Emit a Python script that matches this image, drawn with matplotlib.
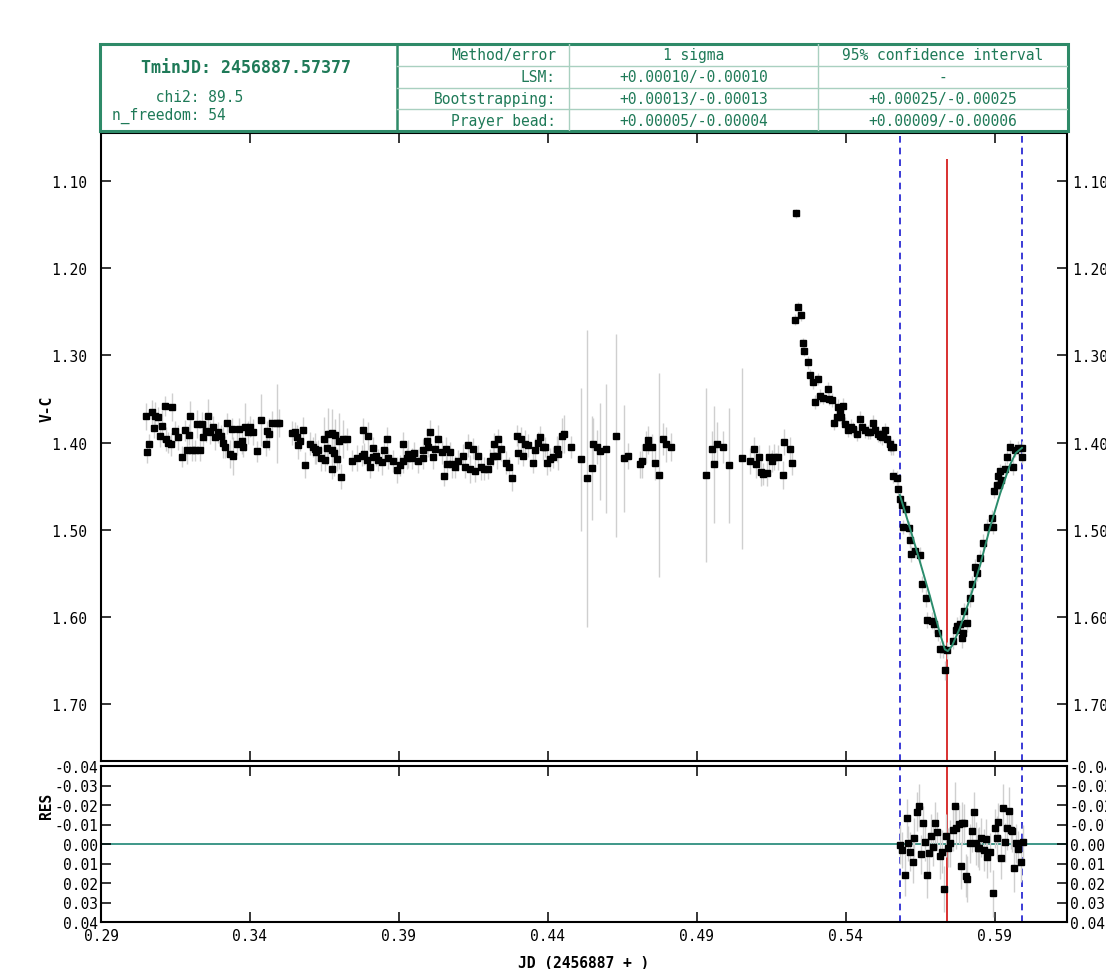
import matplotlib
matplotlib.use("Agg")
import matplotlib.pyplot as plt
from matplotlib.patches import Rectangle
from matplotlib.ticker import FormatStrFormatter

plt.rcParams['font.family'] = ['DejaVu Sans Mono', 'DejaVu Sans']
plt.rcParams['axes.unicode_minus'] = False

# ---- light curve (JD - 2456887, V-C) ----
jd = [
    # first run
    0.3051, 0.3053, 0.3062, 0.3070, 0.3078, 0.3081, 0.3092, 0.3098,
    0.3104, 0.3115, 0.3118, 0.3126, 0.3135, 0.3139, 0.3148, 0.3159,
    0.3171, 0.3182, 0.3190, 0.3196, 0.3199, 0.3204, 0.3215, 0.3221,
    0.3232, 0.3238, 0.3241, 0.3252, 0.3260, 0.3266, 0.3277, 0.3283,
    0.3294, 0.3302, 0.3308, 0.3316, 0.3324, 0.3333, 0.3339, 0.3344,
    0.3355, 0.3364, 0.3372, 0.3378, 0.3383, 0.3394, 0.3400, 0.3411,
    0.3422, 0.3436, 0.3454, 0.3456, 0.3465, 0.3473, 0.3490, 0.3498,
    # second run
    0.3540, 0.3551, 0.3557, 0.3562, 0.3568, 0.3579, 0.3584, 0.3601,
    0.3612, 0.3618, 0.3621, 0.3629, 0.3640, 0.3649, 0.3652, 0.3657,
    0.3662, 0.3674, 0.3675, 0.3676, 0.3682, 0.3685, 0.3691, 0.3700,
    0.3704, 0.3713, 0.3726, 0.3741, 0.3758, 0.3775, 0.3780, 0.3781,
    0.3792, 0.3797, 0.3803, 0.3812, 0.3814, 0.3823, 0.3831, 0.3842,
    0.3850, 0.3859, 0.3864, 0.3881, 0.3892, 0.3903, 0.3914, 0.3915,
    0.3926, 0.3931, 0.3943, 0.3950, 0.3965, 0.3980, 0.3982, 0.3995,
    0.3998, 0.4004, 0.4015, 0.4021, 0.4032, 0.4043, 0.4051, 0.4058,
    0.4060, 0.4071, 0.4077, 0.4088, 0.4099, 0.4114, 0.4121, 0.4133,
    0.4138, 0.4149, 0.4155, 0.4166, 0.4174, 0.4185, 0.4200, 0.4205,
    0.4214, 0.4219, 0.4230, 0.4234, 0.4244, 0.4259, 0.4270, 0.4281,
    0.4295, 0.4300, 0.4308, 0.4315, 0.4323, 0.4334, 0.4349, 0.4356,
    0.4367, 0.4373, 0.4382, 0.4390, 0.4396, 0.4407, 0.4418, 0.4429,
    0.4435, 0.4446, 0.4454, 0.4476,
    # sparse, noisy part
    0.4511, 0.4532, 0.4547, 0.4550, 0.4563, 0.4574, 0.4594, 0.4627,
    0.4655, 0.4670, 0.4709, 0.4717, 0.4729, 0.4735, 0.4748, 0.4759,
    0.4774, 0.4785, 0.4795, 0.4812,
    0.4929, 0.4949, 0.4957, 0.4966, 0.4988, 0.5008, 0.5051, 0.5078,
    0.5092, 0.5098, 0.5109, 0.5114, 0.5123, 0.5134, 0.5143, 0.5151,
    0.5158, 0.5173, 0.5188, 0.5193, 0.5214, 0.5220,
    # flare and decline
    0.5229, 0.5232, 0.5240, 0.5249, 0.5255, 0.5260, 0.5273, 0.5281,
    0.5290, 0.5296, 0.5305, 0.5313, 0.5324, 0.5339, 0.5344, 0.5352,
    0.5361, 0.5371, 0.5374, 0.5380, 0.5385, 0.5391, 0.5397, 0.5408,
    0.5416, 0.5425, 0.5438, 0.5447, 0.5453, 0.5464, 0.5475, 0.5481,
    0.5492, 0.5497, 0.5508, 0.5514, 0.5520, 0.5525, 0.5531, 0.5537,
    0.5548, 0.5553, 0.5557,
    # eclipse
    0.5559, 0.5570, 0.5576, 0.5581, 0.5587, 0.5590, 0.5601, 0.5612,
    0.5614, 0.5620, 0.5631, 0.5648, 0.5654, 0.5668, 0.5671, 0.5688,
    0.5695, 0.5710, 0.5715, 0.5727, 0.5732, 0.5740, 0.5758, 0.5769,
    0.5774, 0.5783, 0.5788, 0.5794, 0.5796, 0.5807, 0.5816, 0.5822,
    0.5833, 0.5839, 0.5850, 0.5859, 0.5872, 0.5889, 0.5894, 0.5897,
    0.5906, 0.5911, 0.5914, 0.5917, 0.5922, 0.5933, 0.5939, 0.5950,
    0.5961, 0.5967, 0.5977, 0.5990, 0.5992,
]

vc = [
    1.370, 1.411, 1.402, 1.365, 1.383, 1.369, 1.371, 1.392,
    1.381, 1.358, 1.396, 1.400, 1.402, 1.359, 1.387, 1.394,
    1.416, 1.386, 1.409, 1.391, 1.370, 1.408, 1.409, 1.379,
    1.409, 1.379, 1.394, 1.387, 1.370, 1.388, 1.382, 1.394,
    1.388, 1.392, 1.400, 1.405, 1.378, 1.413, 1.384, 1.415,
    1.401, 1.384, 1.398, 1.405, 1.382, 1.388, 1.382, 1.388,
    1.410, 1.374, 1.402, 1.387, 1.390, 1.378, 1.378, 1.378,

    1.389, 1.388, 1.393, 1.403, 1.398, 1.385, 1.426, 1.401,
    1.405, 1.407, 1.411, 1.409, 1.418, 1.396, 1.420, 1.406,
    1.390, 1.389, 1.409, 1.430, 1.412, 1.391, 1.419, 1.398,
    1.439, 1.396, 1.396, 1.421, 1.418, 1.415, 1.386, 1.413,
    1.420, 1.392, 1.428, 1.406, 1.417, 1.415, 1.420, 1.422,
    1.409, 1.396, 1.418, 1.421, 1.431, 1.426, 1.421, 1.401,
    1.418, 1.413, 1.418, 1.412, 1.421, 1.418, 1.409, 1.398,
    1.405, 1.388, 1.417, 1.407, 1.396, 1.411, 1.438, 1.407,
    1.425, 1.411, 1.425, 1.428, 1.421, 1.415, 1.428, 1.403,
    1.430, 1.407, 1.432, 1.415, 1.428, 1.430, 1.430, 1.421,
    1.415, 1.402, 1.415, 1.396, 1.407, 1.423, 1.428, 1.441,
    1.392, 1.412, 1.396, 1.415, 1.402, 1.403, 1.423, 1.409,
    1.400, 1.394, 1.405, 1.405, 1.423, 1.419, 1.417, 1.407,
    1.413, 1.392, 1.390, 1.405,

    1.419, 1.441, 1.429, 1.402, 1.405, 1.410, 1.407, 1.392,
    1.418, 1.415, 1.425, 1.421, 1.405, 1.397, 1.405, 1.423,
    1.437, 1.396, 1.402, 1.405,
    1.437, 1.407, 1.425, 1.401, 1.405, 1.426, 1.418, 1.421,
    1.407, 1.425, 1.417, 1.434, 1.436, 1.435, 1.417, 1.421,
    1.416, 1.417, 1.437, 1.399, 1.407, 1.423,

    1.259, 1.137, 1.245, 1.254, 1.286, 1.295, 1.308, 1.322,
    1.331, 1.353, 1.327, 1.346, 1.349, 1.338, 1.350, 1.351,
    1.377, 1.371, 1.359, 1.365, 1.371, 1.358, 1.379, 1.386,
    1.382, 1.384, 1.390, 1.373, 1.382, 1.386, 1.388, 1.388,
    1.377, 1.386, 1.390, 1.392, 1.394, 1.390, 1.386, 1.396,
    1.402, 1.405, 1.405,

    1.438, 1.440, 1.453, 1.465, 1.472, 1.497, 1.476, 1.498,
    1.512, 1.528, 1.524, 1.529, 1.562, 1.578, 1.603, 1.604,
    1.608, 1.618, 1.637, 1.637, 1.661, 1.638, 1.627, 1.615,
    1.610, 1.608, 1.624, 1.618, 1.593, 1.607, 1.578, 1.562,
    1.543, 1.550, 1.532, 1.515, 1.497, 1.486, 1.497, 1.455,
    1.449, 1.438, 1.449, 1.432, 1.443, 1.430, 1.417, 1.405,
    1.428, 1.409, 1.406, 1.406, 1.417,
]

vc_err = [
    0.015, 0.012, 0.012, 0.014, 0.012, 0.016, 0.012, 0.013,
    0.018, 0.012, 0.014, 0.012, 0.013, 0.016, 0.012, 0.014,
    0.012, 0.012, 0.015, 0.012, 0.018, 0.013, 0.012, 0.016,
    0.012, 0.014, 0.012, 0.012, 0.020, 0.013, 0.012, 0.015,
    0.012, 0.012, 0.018, 0.013, 0.012, 0.016, 0.012, 0.022,
    0.013, 0.012, 0.015, 0.012, 0.028, 0.013, 0.012, 0.015,
    0.012, 0.030, 0.013, 0.012, 0.018, 0.014, 0.045, 0.016,

    0.014, 0.012, 0.013, 0.016, 0.012, 0.014, 0.015, 0.013,
    0.012, 0.018, 0.013, 0.012, 0.015, 0.025, 0.013, 0.020,
    0.030, 0.028, 0.014, 0.012, 0.026, 0.018, 0.013, 0.032,
    0.014, 0.022, 0.013, 0.012, 0.015, 0.012, 0.014, 0.013,
    0.012, 0.016, 0.013, 0.012, 0.014, 0.012, 0.013, 0.015,
    0.012, 0.014, 0.012, 0.013, 0.015, 0.012, 0.014, 0.013,
    0.012, 0.016, 0.012, 0.013, 0.014, 0.012, 0.013, 0.015,
    0.012, 0.014, 0.013, 0.012, 0.016, 0.013, 0.012, 0.014,
    0.013, 0.012, 0.015, 0.013, 0.012, 0.014, 0.012, 0.013,
    0.016, 0.012, 0.013, 0.012, 0.015, 0.013, 0.012, 0.014,
    0.012, 0.013, 0.015, 0.012, 0.014, 0.013, 0.012, 0.015,
    0.012, 0.013, 0.014, 0.012, 0.016, 0.013, 0.012, 0.014,
    0.012, 0.013, 0.015, 0.012, 0.014, 0.013, 0.012, 0.015,
    0.018, 0.020, 0.022, 0.013,

    0.082, 0.170, 0.060, 0.030, 0.020, 0.056, 0.074, 0.116,
    0.061, 0.015, 0.015, 0.020, 0.018, 0.016, 0.015, 0.020,
    0.117, 0.018, 0.020, 0.016,
    0.100, 0.020, 0.067, 0.025, 0.018, 0.066, 0.104, 0.015,
    0.014, 0.015, 0.014, 0.016, 0.013, 0.015, 0.014, 0.013,
    0.015, 0.014, 0.016, 0.015, 0.013, 0.014,

    0.006, 0.005, 0.006, 0.006, 0.006, 0.006, 0.007, 0.007,
    0.007, 0.008, 0.007, 0.008, 0.007, 0.008, 0.007, 0.008,
    0.008, 0.008, 0.009, 0.008, 0.008, 0.009, 0.008, 0.008,
    0.009, 0.008, 0.008, 0.009, 0.008, 0.009, 0.008, 0.008,
    0.009, 0.008, 0.009, 0.008, 0.009, 0.008, 0.009, 0.009,
    0.009, 0.009, 0.009,

    0.008, 0.008, 0.009, 0.008, 0.009, 0.008, 0.009, 0.008,
    0.009, 0.009, 0.008, 0.009, 0.009, 0.010, 0.009, 0.010,
    0.010, 0.009, 0.010, 0.010, 0.011, 0.010, 0.010, 0.009,
    0.010, 0.010, 0.011, 0.010, 0.009, 0.010, 0.010, 0.009,
    0.010, 0.009, 0.009, 0.010, 0.009, 0.009, 0.008, 0.009,
    0.009, 0.008, 0.009, 0.008, 0.009, 0.008, 0.008, 0.008,
    0.009, 0.008, 0.008, 0.008, 0.008,
]

# fitted model over the minimum
model_jd = [0.5581, 0.5615, 0.5648, 0.5682, 0.5715, 0.5732, 0.5742, 0.5756,
            0.5782, 0.5816, 0.5850, 0.5883, 0.5917, 0.5950, 0.5970, 0.5991]
model_vc = [1.460, 1.498, 1.536, 1.576, 1.618, 1.637, 1.639, 1.633,
            1.613, 1.579, 1.541, 1.498, 1.459, 1.426, 1.412, 1.406]

# residuals
res_jd = [
    0.5581, 0.5589, 0.5598, 0.5604, 0.5609, 0.5615, 0.5624, 0.5628,
    0.5637, 0.5646, 0.5651, 0.5659, 0.5665, 0.5671, 0.5679, 0.5685,
    0.5693, 0.5699, 0.5706, 0.5715, 0.5721, 0.5729, 0.5735, 0.5743,
    0.5749, 0.5758, 0.5766, 0.5771, 0.5779, 0.5786, 0.5788, 0.5796,
    0.5803, 0.5808, 0.5816, 0.5824, 0.5829, 0.5836, 0.5842, 0.5847,
    0.5855, 0.5863, 0.5870, 0.5875, 0.5883, 0.5892, 0.5900, 0.5906,
    0.5911, 0.5922, 0.5928, 0.5933, 0.5939, 0.5948, 0.5953, 0.5959,
    0.5964, 0.5971, 0.5978, 0.5986, 0.5993,
]
res = [
    0.0005, 0.0031, 0.0159, -0.0132, -0.0004, 0.0039, 0.0090, -0.0033,
    -0.0166, -0.0197, 0.0053, -0.0106, -0.0012, 0.0159, 0.0048, -0.0043,
    0.0014, -0.0106, -0.0063, 0.0060, 0.0039, 0.0231, -0.0043, 0.0019,
    -0.0004, -0.0072, -0.0197, -0.0084, -0.0101, 0.0111, -0.0106, -0.0106,
    0.0162, 0.0179, -0.0004, -0.0067, -0.0166, -0.0004, 0.0019, 0.0022,
    -0.0033, 0.0031, -0.0026, 0.0065, 0.0043, 0.0253, -0.0081, -0.0033,
    -0.0111, 0.0070, -0.0186, -0.0009, -0.0081, -0.0170, -0.0072, -0.0067,
    0.0124, -0.0004, 0.0025, 0.0094, -0.0009,
]
res_err = [
    0.010, 0.009, 0.011, 0.010, 0.009, 0.010, 0.011, 0.010,
    0.010, 0.011, 0.010, 0.009, 0.010, 0.012, 0.010, 0.011,
    0.010, 0.011, 0.010, 0.012, 0.011, 0.012, 0.011, 0.010,
    0.012, 0.011, 0.012, 0.011, 0.010, 0.012, 0.011, 0.010,
    0.011, 0.012, 0.010, 0.011, 0.010, 0.011, 0.010, 0.011,
    0.010, 0.011, 0.010, 0.011, 0.010, 0.012, 0.010, 0.011,
    0.010, 0.011, 0.012, 0.010, 0.011, 0.012, 0.010, 0.011,
    0.012, 0.010, 0.009, 0.010, 0.009,
]

tmin = 0.57377
fit_window = [0.5581, 0.5991]
tmin_line_top = 1.075

x_ticks = [0.29, 0.34, 0.39, 0.44, 0.49, 0.54, 0.59]
y_ticks = [1.10, 1.20, 1.30, 1.40, 1.50, 1.60, 1.70]
res_ticks = [-0.04, -0.03, -0.02, -0.01, 0.00, 0.01, 0.02, 0.03, 0.04]

# table contents
tmin_text = "TminJD: 2456887.57377"
chi2_text = "     chi2: 89.5"
nfree_text = "n_freedom: 54"
header = ["Method/error", "1 sigma", "95% confidence interval"]
methods = ["LSM:", "Bootstrapping:", "Prayer bead:"]
sigma_err = ["+0.00010/-0.00010", "+0.00013/-0.00013", "+0.00005/-0.00004"]
ci95_err = ["-", "+0.00025/-0.00025", "+0.00009/-0.00006"]

GREEN = '#1f7a58'
BORDER = '#2e8a68'
LIGHT = '#a9d0c0'
FS = 10.5

W, H = 1106, 970
fig = plt.figure(figsize=(W / 100, H / 100), dpi=100)


def box(l, t, r, b):
    return [l / W, 1 - b / H, (r - l) / W, (b - t) / H]


ax = fig.add_axes(box(101, 134, 1067, 762))
axr = fig.add_axes(box(101, 767, 1067, 923))
axt = fig.add_axes(box(100, 45, 1068, 132))

# main panel
ax.errorbar(jd, vc, yerr=vc_err, fmt='none', ecolor='#cfcfcf', elinewidth=1, zorder=2)
ax.plot(jd, vc, 's', color='black', ms=4.3, zorder=3)
ax.plot(model_jd, model_vc, color='#2a8c6c', lw=1.4, zorder=4)
for xv in fit_window:
    ax.axvline(xv, color='#1a1ad0', ls=(0, (4, 3)), lw=1.2, zorder=1)
ax.vlines(tmin, tmin_line_top, 1.80, color='#d83030', lw=1.4, zorder=1)

ax.set_xlim(0.29, 0.6142)
ax.set_ylim(1.765, 1.045)
ax.set_xticks(x_ticks)
ax.set_yticks(y_ticks)
ax.yaxis.set_major_formatter(FormatStrFormatter('%.2f '))
ax.tick_params(direction='in', length=7, width=1.1, top=True, right=True,
               labelbottom=False, labelright=True, labelsize=FS, pad=4)

# residual panel
axr.axhline(0, color='#2f8f7f', lw=1.3, zorder=1)
axr.errorbar(res_jd, res, yerr=res_err, fmt='none', ecolor='#cfcfcf', elinewidth=1, zorder=2)
axr.plot(res_jd, res, 's', color='black', ms=4.0, zorder=3)
for xv in fit_window:
    axr.axvline(xv, color='#1a1ad0', ls=(0, (4, 3)), lw=1.2, zorder=1)
axr.axvline(tmin, color='#d83030', lw=1.4, zorder=1)

axr.set_xlim(0.29, 0.6142)
axr.set_ylim(0.04, -0.04)
axr.set_xticks(x_ticks)
axr.set_yticks(res_ticks)
axr.xaxis.set_major_formatter(FormatStrFormatter('%.2f'))
axr.yaxis.set_major_formatter(FormatStrFormatter('%.2f'))
axr.tick_params(direction='in', length=7, width=1.1, top=True, right=True,
                labelright=True, labelsize=FS, pad=2)
axr.tick_params(axis='x', pad=4)

for a in (ax, axr):
    for s in a.spines.values():
        s.set_linewidth(1.5)

fig.text(47 / W, 1 - 409 / H, 'V-C', rotation=90, weight='bold',
         ha='center', va='center', fontsize=FS)
fig.text(47 / W, 1 - 806 / H, 'RES', rotation=90, weight='bold',
         ha='center', va='center', fontsize=FS)
fig.text(584 / W, 1 - 964 / H, 'JD (2456887 + )', weight='bold',
         ha='center', va='center', fontsize=FS)

# info table
axt.set_xlim(0, 1)
axt.set_ylim(0, 1)
axt.axis('off')
c1, c2, c3 = 297 / 968, 469 / 968, 718 / 968
axt.add_patch(Rectangle((0, 0), 1, 1, fill=False, ec=BORDER, lw=2.2, clip_on=False))
axt.plot([c1, c1], [0, 1], color=BORDER, lw=1.8)
for cx in (c2, c3):
    axt.plot([cx, cx], [0, 1], color=LIGHT, lw=1.0)
for ry in (0.25, 0.5, 0.75):
    axt.plot([c1, 1], [ry, ry], color=LIGHT, lw=1.0)

axt.text(146 / 968, 1 - 23 / 87, tmin_text, color=GREEN, weight='bold',
         fontsize=12, ha='center', va='center')
axt.text(12 / 968, 1 - 52 / 87, chi2_text, color=GREEN, fontsize=FS,
         ha='left', va='center')
axt.text(12 / 968, 1 - 71 / 87, nfree_text, color=GREEN, fontsize=FS,
         ha='left', va='center')

row_y = [0.875, 0.625, 0.375, 0.125]
axt.text(c2 - 13 / 968, row_y[0], header[0], color=GREEN, fontsize=FS, ha='right', va='center')
axt.text((c2 + c3) / 2, row_y[0], header[1], color=GREEN, fontsize=FS, ha='center', va='center')
axt.text((c3 + 1) / 2, row_y[0], header[2], color=GREEN, fontsize=FS, ha='center', va='center')
for i in range(3):
    axt.text(c2 - 13 / 968, row_y[i + 1], methods[i], color=GREEN, fontsize=FS, ha='right', va='center')
    axt.text((c2 + c3) / 2, row_y[i + 1], sigma_err[i], color=GREEN, fontsize=FS, ha='center', va='center')
    axt.text((c3 + 1) / 2, row_y[i + 1], ci95_err[i], color=GREEN, fontsize=FS, ha='center', va='center')

fig.savefig('out.png', dpi=100)
